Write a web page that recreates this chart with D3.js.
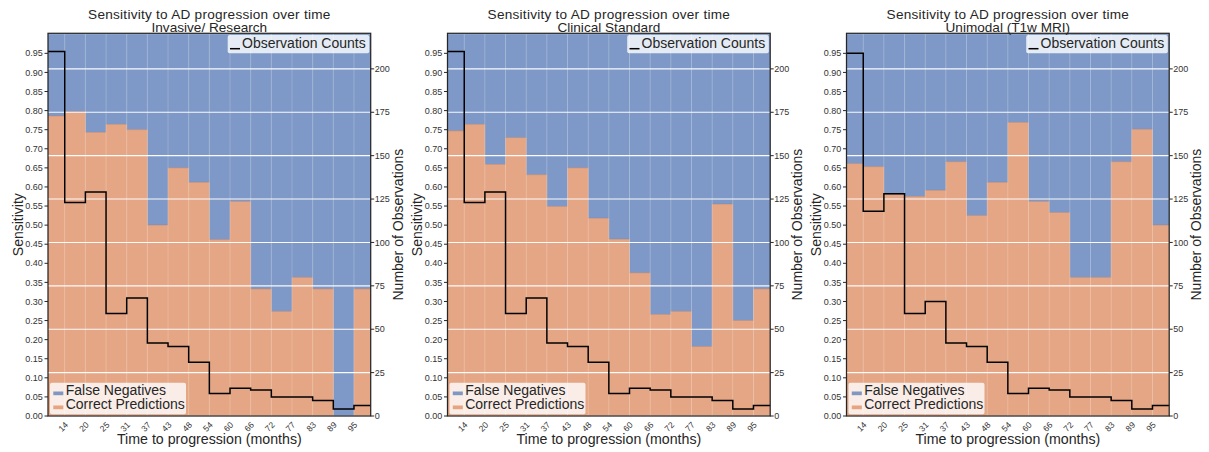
<!DOCTYPE html>
<html><head><meta charset="utf-8">
<script src="https://cdn.jsdelivr.net/npm/d3@7"></script>
<style>
body{margin:0;background:#fff;}
svg{display:block;font-family:"Liberation Sans",Arial,sans-serif;}
</style>
</head><body>
<svg id="chart" width="1209" height="452"></svg>
<script>
// ---------- data ----------
const binEdges = [8.52, 14.30, 20.08, 25.86, 31.64, 37.42, 43.20, 48.98, 54.76, 60.54, 66.32, 72.10, 77.88, 83.66, 89.44, 95.22, 101.00];
const tickLabels = ["14","20","25","31","37","43","48","54","60","66","72","77","83","89","95"];
const xDomain = [9.62, 99.90];
const sensTicks = [0.00,0.05,0.10,0.15,0.20,0.25,0.30,0.35,0.40,0.45,0.50,0.55,0.60,0.65,0.70,0.75,0.80,0.85,0.90,0.95];
const countTicks = [0,25,50,75,100,125,150,175,200];
const mainTitle = "Sensitivity to AD progression over time";
const panelTitles = ["Invasive/ Research", "Clinical Standard", "Unimodal (T1w MRI)"];
const sensInvasive = [0.786,0.797,0.743,0.764,0.750,0.500,0.650,0.612,0.462,0.562,0.333,0.274,0.363,0.333,0.000,0.333];
const sensClinical = [0.747,0.764,0.659,0.729,0.632,0.549,0.650,0.518,0.463,0.375,0.266,0.274,0.182,0.555,0.250,0.333];
const sensUnimodal = [0.661,0.653,0.580,0.575,0.591,0.666,0.525,0.612,0.769,0.562,0.533,0.363,0.363,0.666,0.751,0.500];
const countsInvasive = [210,123,129,59,68,42,40,31,13,16,15,11,11,9,4,6];
const countsClinical = [210,123,129,59,68,42,40,31,13,16,15,11,11,9,4,6];
const countsUnimodal = [209,118,128,59,66,42,40,31,13,16,15,11,11,9,4,6];
const legendBars = ["False Negatives", "Correct Predictions"];
const legendLine = "Observation Counts";

const panels = [
  {sub: panelTitles[0], sens: sensInvasive, counts: countsInvasive, left: 48},
  {sub: panelTitles[1], sens: sensClinical, counts: countsClinical, left: 447.5},
  {sub: panelTitles[2], sens: sensUnimodal, counts: countsUnimodal, left: 846.5}
];

// ---------- style ----------
const W = 322.7, TOP = 33.3, BOTTOM = 416;
const BLUE = "#4C72B0", ORANGE = "#DD8452", BG = "#F6F6FA", TXT = "#262626";

const svg = d3.select("#chart");
const defs = svg.append("defs");

panels.forEach((p, pi) => {
  const L = p.left, R = L + W;
  const x = d3.scaleLinear().domain(xDomain).range([L, R]);
  const y = d3.scaleLinear().domain([0, 1.0025]).range([BOTTOM, TOP]);
  const y2 = d3.scaleLinear().domain([0, 220.5]).range([BOTTOM, TOP]);
  const g = svg.append("g");

  const clipId = "clip" + pi;
  defs.append("clipPath").attr("id", clipId)
    .append("rect").attr("x", L).attr("y", TOP).attr("width", W).attr("height", BOTTOM - TOP);

  g.append("rect").attr("x", L).attr("y", TOP).attr("width", W).attr("height", BOTTOM - TOP).attr("fill", BG);

  const plot = g.append("g").attr("clip-path", `url(#${clipId})`);

  plot.selectAll(".vg").data(binEdges.slice(1, 16)).enter().append("line")
    .attr("x1", d => x(d)).attr("x2", d => x(d)).attr("y1", TOP).attr("y2", BOTTOM)
    .attr("stroke", "#fff").attr("stroke-width", 1.1);

  const bins = p.sens.map((s, i) => ({x0: binEdges[i], x1: binEdges[i + 1], s}));
  plot.selectAll(".fn").data(bins).enter().append("rect")
    .attr("x", d => x(d.x0)).attr("width", d => x(d.x1) - x(d.x0))
    .attr("y", y(1)).attr("height", d => y(d.s) - y(1))
    .attr("fill", BLUE).attr("fill-opacity", 0.7)
    .attr("stroke", BLUE).attr("stroke-opacity", 0.35).attr("stroke-width", 0.8);
  plot.selectAll(".cp").data(bins).enter().append("rect")
    .attr("x", d => x(d.x0)).attr("width", d => x(d.x1) - x(d.x0))
    .attr("y", d => y(d.s)).attr("height", d => BOTTOM - y(d.s))
    .attr("fill", ORANGE).attr("fill-opacity", 0.7)
    .attr("stroke", ORANGE).attr("stroke-opacity", 0.35).attr("stroke-width", 0.8);

  plot.selectAll(".vg2").data(binEdges.slice(1, 16)).enter().append("line")
    .attr("x1", d => x(d)).attr("x2", d => x(d)).attr("y1", TOP).attr("y2", BOTTOM)
    .attr("stroke", "#fff").attr("stroke-opacity", 0.35).attr("stroke-width", 1);

  plot.selectAll(".hg").data(countTicks).enter().append("line")
    .attr("x1", L).attr("x2", R).attr("y1", d => y2(d)).attr("y2", d => y2(d))
    .attr("stroke", "#fff").attr("stroke-width", 1.1).attr("stroke-opacity", 0.95);

  const stepPts = [];
  p.counts.forEach((c, i) => { stepPts.push([binEdges[i], c]); stepPts.push([binEdges[i + 1], c]); });
  const line = d3.line().x(d => x(d[0])).y(d => y2(d[1]));
  plot.append("path").attr("d", line(stepPts)).attr("fill", "none")
    .attr("stroke", "#000").attr("stroke-width", 1.5);

  g.append("rect").attr("x", L).attr("y", TOP).attr("width", W).attr("height", BOTTOM - TOP)
    .attr("fill", "none").attr("stroke", TXT).attr("stroke-width", 1.25);

  const ga = g.append("g").attr("font-size", 9).attr("fill", "#333");
  sensTicks.forEach(t => {
    ga.append("line").attr("x1", L - 3.5).attr("x2", L).attr("y1", y(t)).attr("y2", y(t))
      .attr("stroke", TXT).attr("stroke-width", 1);
    ga.append("text").attr("x", L - 5.3).attr("y", y(t)).attr("dy", "0.35em")
      .attr("text-anchor", "end").text(d3.format(".2f")(t));
  });
  countTicks.forEach(t => {
    ga.append("line").attr("x1", R).attr("x2", R + 3.5).attr("y1", y2(t)).attr("y2", y2(t))
      .attr("stroke", TXT).attr("stroke-width", 1);
    ga.append("text").attr("x", R + 4).attr("y", y2(t)).attr("dy", "0.35em")
      .attr("text-anchor", "start").text(t);
  });
  binEdges.slice(1, 16).forEach((e, i) => {
    const tx = x(e) - 1.5, ty = BOTTOM + 10.7;
    ga.append("text").attr("transform", `translate(${tx},${ty}) rotate(-45)`)
      .attr("text-anchor", "middle").attr("dy", "0.35em").attr("font-size", 8.5)
      .text(tickLabels[i]);
  });

  const cx = (L + R) / 2;
  g.append("text").attr("x", cx).attr("y", 18.6).attr("text-anchor", "middle")
    .attr("font-size", 13.6).attr("letter-spacing", 0.25).attr("fill", TXT).text(mainTitle);
  g.append("text").attr("x", cx).attr("y", 32.3).attr("text-anchor", "middle")
    .attr("font-size", 13.6).attr("fill", TXT).text(p.sub);
  g.append("text").attr("x", cx).attr("y", 444).attr("text-anchor", "middle")
    .attr("font-size", 14.2).attr("fill", TXT).text("Time to progression (months)");
  g.append("text").attr("transform", `translate(${L - 25.5},${(TOP + BOTTOM) / 2}) rotate(-90)`)
    .attr("text-anchor", "middle").attr("font-size", 14).attr("fill", TXT).text("Sensitivity");
  g.append("text").attr("transform", `translate(${R + 32},${(TOP + BOTTOM) / 2}) rotate(-90)`)
    .attr("text-anchor", "middle").attr("font-size", 14).attr("fill", TXT).text("Number of Observations");

  const lg1 = g.append("g");
  lg1.append("rect").attr("x", R - 143).attr("y", TOP + 1.7).attr("width", 141.6).attr("height", 18.3)
    .attr("rx", 2).attr("fill", "#fff").attr("fill-opacity", 0.8);
  lg1.append("line").attr("x1", R - 140.7).attr("x2", R - 130.7).attr("y1", 48.7).attr("y2", 48.7)
    .attr("stroke", "#000").attr("stroke-width", 1.5);
  lg1.append("text").attr("x", R - 128.7).attr("y", 48.3).attr("font-size", 14).attr("fill", TXT).text(legendLine);

  const lg2 = g.append("g");
  lg2.append("rect").attr("x", L + 2).attr("y", BOTTOM - 33.3).attr("width", 136).attr("height", 31.6)
    .attr("rx", 2).attr("fill", "#fff").attr("fill-opacity", 0.8);
  [BLUE, ORANGE].forEach((c, i) => {
    const by = 395 + i * 14;
    lg2.append("rect").attr("x", L + 5.3).attr("y", by - 3.5).attr("width", 10).attr("height", 3.7)
      .attr("fill", c).attr("fill-opacity", 0.7);
    lg2.append("text").attr("x", L + 17.7).attr("y", by).attr("font-size", 14).attr("fill", TXT).text(legendBars[i]);
  });
});
</script>
</body></html>
